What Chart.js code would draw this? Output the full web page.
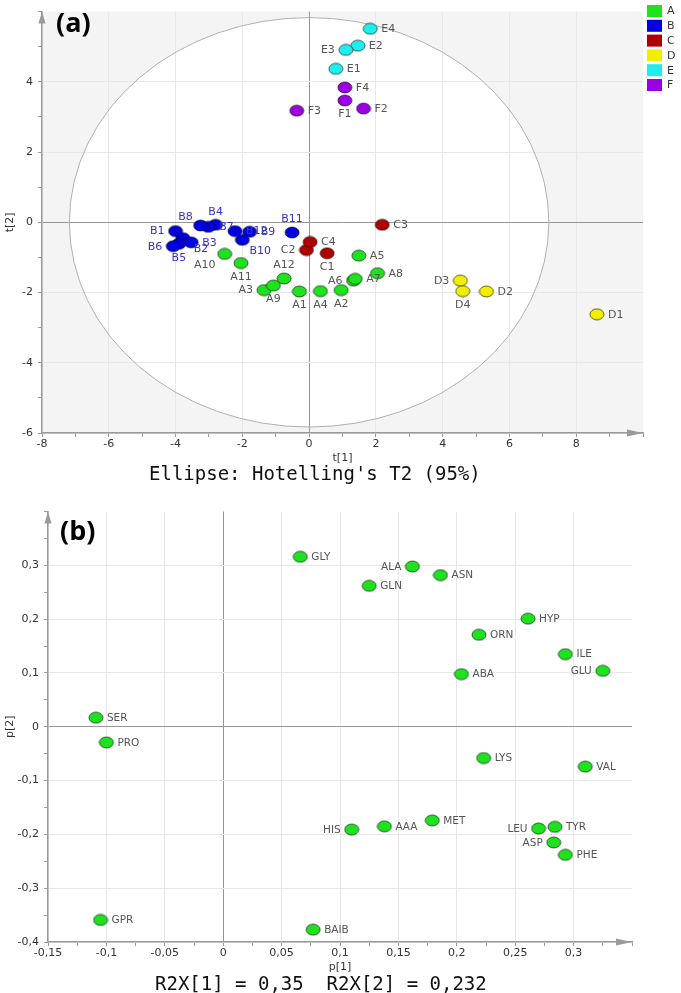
<!DOCTYPE html>
<html>
<head>
<meta charset="utf-8">
<script src="https://cdn.jsdelivr.net/npm/chart.js@4.4.1/dist/chart.umd.min.js"></script>
<style>
  body { margin: 0; background: #fff; }
  #wrap { position: relative; width: 681px; height: 993px; overflow: hidden; }
  canvas { position: absolute; left: 0; }
  #scoreChart { top: 0; }
  #loadingChart { top: 500px; }
  .cap { position: absolute; font-family: "DejaVu Sans Mono", monospace; font-size: 19px; line-height: 20px; color: #111; white-space: pre; }
  .tag { position: absolute; font-family: "Open Sans", sans-serif; font-weight: bold; font-size: 27px; line-height: 30px; color: #000; }
</style>
</head>
<body>
<div id="wrap">
  <canvas id="scoreChart" width="681" height="470"></canvas>
  <canvas id="loadingChart" width="681" height="479"></canvas>
  <div class="tag" style="left:56px; top:7px;">(a)</div>
  <div class="tag" style="left:60px; top:515px;">(b)</div>
  <div class="cap" style="left:149px; top:463px;">Ellipse: Hotelling's T2 (95%)</div>
  <div class="cap" style="left:155px; top:973px;">R2X[1] = 0,35  R2X[2] = 0,232</div>
</div>
<script>
// ---- score plot (a) ----
var groupNames = ["A", "B", "C", "D", "E", "F"];

var aNames = ["A1", "A2", "A3", "A4", "A5", "A6", "A7", "A8", "A9", "A10", "A11", "A12"];
var aT1 = [-0.29, 0.96, -1.35, 0.34, 1.49, 1.33, 1.38, 2.05, -1.07, -2.53, -2.04, -0.75];
var aT2 = [-1.97, -1.93, -1.93, -1.96, -0.95, -1.66, -1.61, -1.45, -1.80, -0.90, -1.16, -1.60];

var bNames = ["B1", "B2", "B3", "B4", "B5", "B6", "B7", "B8", "B9", "B10", "B11", "B12"];
var bT1 = [-4.00, -3.78, -3.53, -2.80, -3.90, -4.07, -3.02, -3.25, -1.78, -2.00, -0.51, -2.22];
var bT2 = [-0.25, -0.45, -0.57, -0.07, -0.61, -0.68, -0.13, -0.09, -0.27, -0.50, -0.29, -0.25];

var cNames = ["C1", "C2", "C3", "C4"];
var cT1 = [0.54, -0.08, 2.19, 0.03];
var cT2 = [-0.88, -0.79, -0.07, -0.56];

var dNames = ["D1", "D2", "D3", "D4"];
var dT1 = [8.62, 5.31, 4.53, 4.60];
var dT2 = [-2.62, -1.97, -1.66, -1.96];

var eNames = ["E1", "E2", "E3", "E4"];
var eT1 = [0.80, 1.46, 1.10, 1.83];
var eT2 = [4.37, 5.03, 4.91, 5.51];

var fNames = ["F1", "F2", "F3", "F4"];
var fT1 = [1.07, 1.63, -0.37, 1.07];
var fT2 = [3.47, 3.24, 3.18, 3.84];

// Hotelling's T2 ellipse half-axes
var ellipseT1 = 7.18;
var ellipseT2 = 5.83;

// ---- loading plot (b) ----
var varNames = ["GLY", "ALA", "ASN", "GLN", "HYP", "ORN", "ILE", "GLU", "ABA", "SER", "PRO",
                "LYS", "VAL", "HIS", "AAA", "MET", "LEU", "TYR", "ASP", "PHE", "GPR", "BAIB"];
var p1Values = [0.066, 0.162, 0.186, 0.125, 0.261, 0.219, 0.293, 0.325, 0.204, -0.109, -0.100,
                0.223, 0.310, 0.110, 0.138, 0.179, 0.270, 0.284, 0.283, 0.293, -0.105, 0.077];
var p2Values = [0.316, 0.298, 0.282, 0.262, 0.201, 0.171, 0.135, 0.104, 0.098, 0.017, -0.029,
                -0.058, -0.074, -0.191, -0.185, -0.174, -0.189, -0.186, -0.215, -0.238, -0.359, -0.377];

// label placement (style only)
var aLabelPos = ["b", "b", "l", "b", "r", "l", "r", "r", "b", "bl", "b", "t"];
var bLabelPos = ["l", "br", "r", "t", "b", "l", "r", "tl", "r", "br", "t", "r"];
var cLabelPos = ["b", "l", "r", "r"];
var dLabelPos = ["r", "r", "l", "b"];
var eLabelPos = ["r", "r", "l", "r"];
var fLabelPos = ["b", "r", "r", "r"];
var varLabelPos = ["r", "l", "r", "r", "r", "r", "r", "l", "r", "r", "r",
                   "r", "r", "l", "r", "r", "l", "r", "l", "r", "r", "r"];

var groupColors = ["#1ee21e", "#0000e0", "#b00000", "#f2ee00", "#20eeee", "#9a00e2"];

function makeMarker(fill) {
  var c = document.createElement("canvas");
  c.width = 16;
  c.height = 13;
  var g = c.getContext("2d");
  g.beginPath();
  g.ellipse(8, 6.5, 7, 5.5, 0, 0, Math.PI * 2);
  g.fillStyle = fill;
  g.fill();
  g.lineWidth = 1;
  g.strokeStyle = "rgba(0,0,0,0.6)";
  g.stroke();
  return c;
}

function toPoints(xs, ys) {
  return xs.map(function (x, i) { return { x: x, y: ys[i] }; });
}

function isMultiple(v, step) {
  var r = v / step;
  return Math.abs(r - Math.round(r)) < 1e-6;
}

function commaNum(v) {
  return String(Math.round(v * 1000) / 1000).replace(".", ",");
}

var labelFont = "DejaVu Sans";

var pointLabels = {
  id: "pointLabels",
  afterDatasetsDraw: function (chart) {
    var ctx = chart.ctx;
    ctx.save();
    chart.data.datasets.forEach(function (ds, i) {
      var meta = chart.getDatasetMeta(i);
      ctx.fillStyle = ds.labelColor;
      ctx.font = ds.labelSize + "px '" + labelFont + "'";
      ctx.textBaseline = "middle";
      meta.data.forEach(function (el, j) {
        var pos = ds.labelPos[j];
        var x = el.x, y = el.y;
        if (pos === "r") { ctx.textAlign = "left"; x += 11; }
        else if (pos === "l") { ctx.textAlign = "right"; x -= 11; }
        else if (pos === "t") { ctx.textAlign = "center"; y -= 13.5; }
        else if (pos === "b") { ctx.textAlign = "center"; y += 13.5; }
        else if (pos === "tl") { ctx.textAlign = "center"; x -= 15; y -= 9; }
        else if (pos === "br") { ctx.textAlign = "center"; x += 18; y += 11; }
        else if (pos === "bl") { ctx.textAlign = "center"; x -= 20; y += 11; }
        ctx.fillText(ds.pointNames[j], x, y + 0.5);
      });
    });
    ctx.restore();
  }
};

var axisArrows = {
  id: "axisArrows",
  afterDraw: function (chart) {
    var a = chart.chartArea;
    var ctx = chart.ctx;
    ctx.save();
    ctx.fillStyle = "#9a9a9a";
    ctx.beginPath();
    ctx.moveTo(a.left, a.top);
    ctx.lineTo(a.left - 3.5, a.top + 12);
    ctx.lineTo(a.left + 3.5, a.top + 12);
    ctx.closePath();
    ctx.fill();
    ctx.beginPath();
    ctx.moveTo(a.right, a.bottom);
    ctx.lineTo(a.right - 16, a.bottom - 3.5);
    ctx.lineTo(a.right - 16, a.bottom + 3.5);
    ctx.closePath();
    ctx.fill();
    ctx.restore();
  }
};

var hotelling = {
  id: "hotelling",
  beforeDraw: function (chart) {
    var a = chart.chartArea;
    var ctx = chart.ctx;
    var sx = chart.scales.x, sy = chart.scales.y;
    var cx = sx.getPixelForValue(0), cy = sy.getPixelForValue(0);
    var rx = sx.getPixelForValue(ellipseT1) - cx;
    var ry = cy - sy.getPixelForValue(ellipseT2);
    ctx.save();
    ctx.fillStyle = "#f4f4f4";
    ctx.fillRect(a.left, a.top, a.right - a.left, a.bottom - a.top);
    ctx.beginPath();
    ctx.rect(a.left, a.top, a.right - a.left, a.bottom - a.top);
    ctx.clip();
    ctx.beginPath();
    ctx.ellipse(cx, cy, rx, ry, 0, 0, Math.PI * 2);
    ctx.fillStyle = "#ffffff";
    ctx.fill();
    ctx.restore();
  },
  beforeDatasetsDraw: function (chart) {
    var ctx = chart.ctx;
    var sx = chart.scales.x, sy = chart.scales.y;
    var cx = sx.getPixelForValue(0), cy = sy.getPixelForValue(0);
    ctx.save();
    ctx.beginPath();
    ctx.ellipse(cx, cy, sx.getPixelForValue(ellipseT1) - cx, cy - sy.getPixelForValue(ellipseT2), 0, 0, Math.PI * 2);
    ctx.strokeStyle = "#b0b0b0";
    ctx.lineWidth = 1;
    ctx.stroke();
    ctx.restore();
  }
};

var groupLegend = {
  id: "groupLegend",
  afterDraw: function (chart) {
    var ctx = chart.ctx;
    ctx.save();
    ctx.font = "11px '" + labelFont + "'";
    ctx.textBaseline = "middle";
    ctx.textAlign = "left";
    groupNames.forEach(function (name, i) {
      var y = 11 + i * 14.8;
      ctx.fillStyle = groupColors[i];
      ctx.fillRect(647, y - 6, 15, 12);
      ctx.fillStyle = "#333";
      ctx.fillText(name, 667, y + 0.5);
    });
    ctx.restore();
  }
};

function gridColor(value, step, maxv) {
  if (!isMultiple(value, step) || Math.abs(value - maxv) < 1e-9) return "rgba(0,0,0,0)";
  if (Math.abs(value) < 1e-9) return "#969696";
  return "#e8e8e8";
}

var tickFont = { family: labelFont, size: 11 };

function axisOptions(min, max, step, labelStep, title, isX, fmt) {
  return {
    type: "linear",
    min: min,
    max: max,
    ticks: {
      stepSize: step,
      autoSkip: false,
      maxRotation: 0,
      includeBounds: false,
      padding: isX ? 1 : 5,
      color: "#333",
      font: tickFont,
      callback: function (v) {
        if (!isMultiple(v, labelStep) || Math.abs(v - max) < 1e-9) return "";
        return fmt(v);
      }
    },
    grid: {
      color: function (c) { return gridColor(c.tick.value, labelStep, max); },
      tickColor: "#9a9a9a",
      tickLength: 4,
      lineWidth: 1
    },
    border: { color: "#9a9a9a", width: 1.5 },
    title: {
      display: true,
      text: title,
      color: "#333",
      font: tickFont,
      padding: isX ? { top: 0, bottom: 5 } : { top: 4, bottom: 0 }
    }
  };
}

var scoreSets = [
  [aNames, aT1, aT2, aLabelPos],
  [bNames, bT1, bT2, bLabelPos],
  [cNames, cT1, cT2, cLabelPos],
  [dNames, dT1, dT2, dLabelPos],
  [eNames, eT1, eT2, eLabelPos],
  [fNames, fT1, fT2, fLabelPos]
];

var scoreX = axisOptions(-8, 10, 1, 2, "t[1]", true, function (v) { return String(v); });
scoreX.afterFit = function (s) { s.height = 37; };
var scoreY = axisOptions(-6, 6, 1, 2, "t[2]", false, function (v) { return String(v); });
scoreY.afterFit = function (s) { s.width = 42; };

new Chart(document.getElementById("scoreChart"), {
  type: "scatter",
  data: {
    datasets: scoreSets.map(function (g, i) {
      return {
        label: groupNames[i],
        data: toPoints(g[1], g[2]),
        pointNames: g[0],
        labelPos: g[3],
        labelColor: i === 1 ? "#3434c4" : "#555",
        labelSize: 11,
        pointStyle: makeMarker(groupColors[i]),
        pointRadius: 6,
        backgroundColor: groupColors[i]
      };
    })
  },
  options: {
    responsive: false,
    animation: false,
    layout: { padding: { top: 3, right: 38, left: 0, bottom: 0 } },
    plugins: { legend: { display: false }, tooltip: { enabled: false } },
    scales: { x: scoreX, y: scoreY }
  },
  plugins: [hotelling, pointLabels, axisArrows, groupLegend]
});

var loadX = axisOptions(-0.15, 0.35, 0.025, 0.05, "p[1]", true, commaNum);
loadX.afterFit = function (s) { s.height = 37; };
var loadY = axisOptions(-0.4, 0.4, 0.05, 0.1, "p[2]", false, commaNum);
loadY.afterFit = function (s) { s.width = 48; };

new Chart(document.getElementById("loadingChart"), {
  type: "scatter",
  data: {
    datasets: [{
      label: "variables",
      data: toPoints(p1Values, p2Values),
      pointNames: varNames,
      labelPos: varLabelPos,
      labelColor: "#555",
      labelSize: 10.5,
      pointStyle: makeMarker(groupColors[0]),
      pointRadius: 6,
      backgroundColor: groupColors[0]
    }]
  },
  options: {
    responsive: false,
    animation: false,
    layout: { padding: { top: 7, right: 49, left: 0, bottom: 0 } },
    plugins: { legend: { display: false }, tooltip: { enabled: false } },
    scales: { x: loadX, y: loadY }
  },
  plugins: [pointLabels, axisArrows]
});
</script>
</body>
</html>
